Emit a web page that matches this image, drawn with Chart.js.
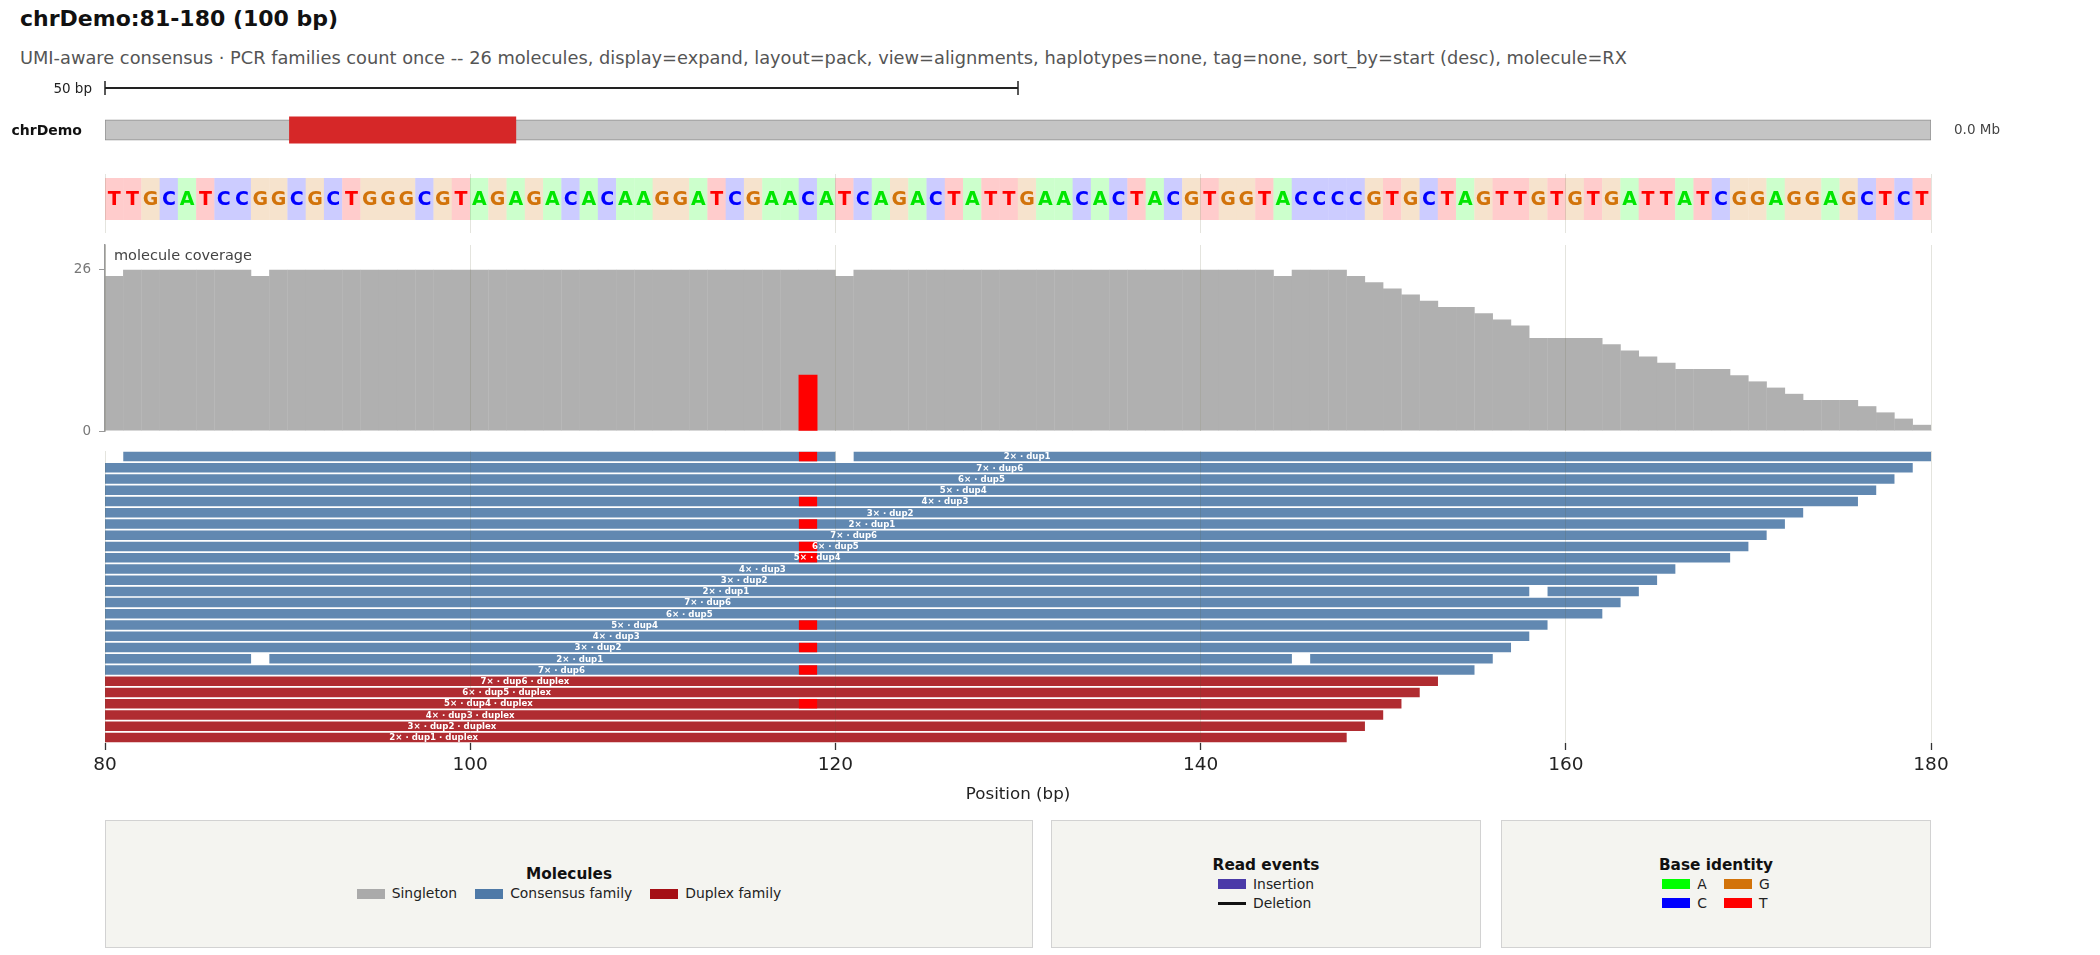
<!DOCTYPE html>
<html><head><meta charset="utf-8">
<script src="https://cdn.jsdelivr.net/npm/chart.js@4.4.0/dist/chart.umd.min.js"></script>
<style>
html,body{margin:0;padding:0;background:#fff;width:2100px;height:955px;overflow:hidden;font-family:"DejaVu Sans",sans-serif;}
.txt{position:absolute;white-space:nowrap;line-height:1;z-index:5;}
canvas{position:absolute;left:0;}
.legend{position:absolute;top:820px;height:128px;box-sizing:border-box;border:1.5px solid #d2d2d2;background:#f4f4f0;display:flex;flex-direction:column;align-items:center;justify-content:center;color:#222;}
.ltitle{font-weight:bold;font-size:15.3px;line-height:19px;color:#111;}
.lrow{display:flex;align-items:center;font-size:13.9px;line-height:19px;}
.lgrid{display:grid;grid-template-columns:auto auto;column-gap:17px;}
.item{display:flex;align-items:center;height:19px;}
.sw{display:inline-block;width:28px;height:10px;margin-right:7px;}
</style></head><body>
<script>
// ---------------- data ----------------
const viewStart = 80, viewEnd = 180;
const xTicks = [80, 100, 120, 140, 160, 180];
const scaleBarRange = [80, 130];
const scaleBarLabel = '50 bp';
const ideogramRange = [80, 180];
const highlightRange = [90.1, 102.5];
const sequence = ['T','T','G','C','A','T','C','C','G','G','C','G','C','T','G','G','G','C','G','T',
  'A','G','A','G','A','C','A','C','A','A','G','G','A','T','C','G','A','A','C','A',
  'T','C','A','G','A','C','T','A','T','T','G','A','A','C','A','C','T','A','C','G',
  'T','G','G','T','A','C','C','C','C','G','T','G','C','T','A','G','T','T','G','T',
  'G','T','G','A','T','T','A','T','C','G','G','A','G','G','A','G','C','T','C','T'];
const coverage = [25,26,26,26,26,26,26,26,25,26, 26,26,26,26,26,26,26,26,26,26,
  26,26,26,26,26,26,26,26,26,26, 26,26,26,26,26,26,26,26,26,26,
  25,26,26,26,26,26,26,26,26,26, 26,26,26,26,26,26,26,26,26,26,
  26,26,26,26,25,26,26,26,25,24, 23,22,21,20,20,19,18,17,15,15,
  15,15,14,13,12,11,10,10,10,9, 8,7,6,5,5,5,4,3,2,1];
const coverageTicks = [0, 26];
const mismatchBase = 119;
const mismatchCount = 9;
const readStarts = [81,79,78,77,76,73,72,71,70,69,66,65,64,63,62,59,58,57,56,55,53,52,51,50,49,48];
const readEnds = [180,179,178,177,176,173,172,171,170,169,166,165,164,163,162,159,158,157,156,155,153,152,151,150,149,148];
const readKinds = ['c','c','c','c','c','c','c','c','c','c','c','c','c','c','c','c','c','c','c','c','d','d','d','d','d','d'];
const readLabels = ['2× · dup1','7× · dup6','6× · dup5','5× · dup4','4× · dup3','3× · dup2','2× · dup1','7× · dup6',
  '6× · dup5','5× · dup4','4× · dup3','3× · dup2','2× · dup1','7× · dup6','6× · dup5','5× · dup4','4× · dup3',
  '3× · dup2','2× · dup1','7× · dup6','7× · dup6 · duplex','6× · dup5 · duplex','5× · dup4 · duplex',
  '4× · dup3 · duplex','3× · dup2 · duplex','2× · dup1 · duplex'];
const readGaps = [[0,120,121],[12,158,159],[18,88,89],[18,145,146]];
const mismatchRows = [0,4,6,8,9,15,17,19,22];
const legendMolecules = [['Singleton','#aaaaaa'],['Consensus family','#4e79a7'],['Duplex family','#a50f15']];
const legendEvents = [['Insertion','#4a3aa8','box'],['Deletion','#111111','line']];
const legendBases = [['A','#00ff00'],['G','#d2730a'],['C','#0000ff'],['T','#ff0000']];

// ---------------- styles ----------------
const FONT = '"DejaVu Sans", sans-serif';
Chart.defaults.font.family = FONT;
const baseColors = {A:'#00e600', C:'#0000ff', G:'#d2730a', T:'#ff0000'};
const baseBg = {A:'#ccffcc', C:'#ccccff', G:'#f6e3cd', T:'#ffcccc'};
const gridColor = 'rgba(90,90,50,0.16)';
const readColors = {c:'rgba(78,121,167,0.89)', d:'rgba(165,15,21,0.88)'};

function txt(s, x, baseline, size, weight, color, align){
  const d = document.createElement('div');
  d.className = 'txt'; d.textContent = s;
  d.style.fontSize = size + 'px'; d.style.fontWeight = weight; d.style.color = color;
  d.style.top = (baseline - 0.846*size) + 'px';
  if (align === 'right') { d.style.right = (2100 - x) + 'px'; } else { d.style.left = x + 'px'; }
  document.body.appendChild(d);
}
function canvasAt(top, height){
  const c = document.createElement('canvas');
  c.width = 2100; c.height = height;
  c.style.top = top + 'px'; c.style.width = '2100px'; c.style.height = height + 'px';
  document.body.appendChild(c);
  return c;
}
const common = {responsive:false, animation:false, events:[], devicePixelRatio:1,
  plugins:{legend:{display:false}, tooltip:{enabled:false}}};
function xAxis(extra){
  return Object.assign({type:'linear', min:viewStart, max:viewEnd, offset:false,
    afterBuildTicks(s){ s.ticks = xTicks.map(v=>({value:v})); },
    ticks:{display:false}, border:{display:false},
    grid:{color:gridColor, lineWidth:1, drawTicks:false, offset:false, z:1},
    afterFit(s){ s.height = 0; }}, extra || {});
}

// ---------------- texts ----------------
txt('chrDemo:81-180 (100 bp)', 20, 26.5, 22, 'bold', '#111', 'left');
txt('UMI-aware consensus · PCR families count once -- 26 molecules, display=expand, layout=pack, view=alignments, haplotypes=none, tag=none, sort_by=start (desc), molecule=RX', 20, 64.5, 17.8, 'normal', '#555', 'left');
txt(scaleBarLabel, 92, 93, 13.5, 'normal', '#222', 'right');
txt('chrDemo', 82, 135, 14, 'bold', '#111', 'right');
txt('0.0 Mb', 1954, 134, 13.5, 'normal', '#444', 'left');
txt('molecule coverage', 114, 260, 14.5, 'normal', '#444', 'left');

// ---------------- ideogram + scale bar ----------------
new Chart(canvasAt(70, 80), {
  type:'bar',
  data:{datasets:[
    {type:'line', data:[{x:scaleBarRange[0], y:18},{x:scaleBarRange[1], y:18}], borderColor:'#222', borderWidth:2,
     pointStyle:'line', rotation:90, pointRadius:7, pointBorderWidth:1.5, pointBorderColor:'#222', order:0, clip:false},
    {indexAxis:'y', data:[{x:highlightRange, y:60}], backgroundColor:'#d62728', barThickness:26.5, grouped:false, order:1},
    {indexAxis:'y', data:[{x:ideogramRange, y:60}], backgroundColor:'#c4c4c4', borderColor:'#8f8f8f', borderWidth:1,
     borderSkipped:false, barThickness:20.5, grouped:false, order:2}
  ]},
  options:Object.assign({}, common, {
    layout:{autoPadding:false, padding:{left:105, right:169, top:0, bottom:0}},
    scales:{x:{type:'linear', min:viewStart, max:viewEnd, display:false, offset:false},
            y:{type:'linear', min:0, max:80, reverse:true, display:false, offset:false}}
  })
});

// ---------------- sequence track ----------------
const seqLetters = {id:'seqLetters', afterDatasetsDraw(chart){
  const {ctx, scales:{x, y}} = chart;
  ctx.save(); ctx.font = 'bold 19px ' + FONT; ctx.textAlign = 'center'; ctx.textBaseline = 'middle';
  sequence.forEach((b, i) => { ctx.fillStyle = baseColors[b]; ctx.fillText(b, x.getPixelForValue(viewStart + 0.5 + i), y.getPixelForValue(0.5) + 1); });
  ctx.restore();
}};
new Chart(canvasAt(174, 59), {
  type:'bar',
  data:{datasets:[{data:sequence.map((b, i) => ({x:viewStart + 0.5 + i, y:[0, 1]})),
    backgroundColor:sequence.map(b => baseBg[b]), barPercentage:1.02, categoryPercentage:1, grouped:false}]},
  options:Object.assign({}, common, {
    layout:{autoPadding:false, padding:{left:105, right:169, top:0, bottom:0}},
    scales:{x:xAxis(), y:{type:'linear', min:-0.31, max:1.095, display:false}}
  }),
  plugins:[seqLetters]
});

// ---------------- coverage ----------------
new Chart(canvasAt(228, 220), {
  type:'bar',
  data:{datasets:[
    {data:[{x:mismatchBase - 0.5, y:mismatchCount}], backgroundColor:'#ff0000', barPercentage:1, categoryPercentage:1, grouped:false, order:1},
    {data:coverage.map((v, i) => ({x:viewStart + 0.5 + i, y:v})), backgroundColor:'#b0b0b0', barPercentage:1.02, categoryPercentage:1, grouped:false, order:2}
  ]},
  options:Object.assign({}, common, {
    layout:{autoPadding:false, padding:{left:65, right:169, top:17, bottom:17}},
    scales:{
      x:xAxis(),
      y:{type:'linear', min:0, max:30, position:'left',
        afterBuildTicks(s){ s.ticks = coverageTicks.map(v=>({value:v})); },
        ticks:{color:'#777', font:{size:13.5}, padding:8},
        grid:{drawOnChartArea:false, drawTicks:true, tickLength:6, tickColor:'#999'},
        border:{display:true, color:'#999', width:1.5},
        afterFit(s){ s.width = 40; }}
    }
  })
});

// ---------------- reads ----------------
const rowKeys = readLabels.map((_, i) => 'r' + i);
function segmentsFor(kind){
  const out = [];
  readStarts.forEach((s, i) => {
    if (readKinds[i] !== kind) return;
    const cuts = readGaps.filter(g => g[0] === i).sort((a, b) => a[1] - b[1]);
    let cur = s;
    cuts.forEach(g => { out.push({x:[cur, g[1]], y:rowKeys[i]}); cur = g[2]; });
    out.push({x:[cur, readEnds[i]], y:rowKeys[i]});
  });
  return out;
}
const readText = {id:'readText', afterDatasetsDraw(chart){
  const {ctx, chartArea:a, scales:{x, y}} = chart;
  ctx.save(); ctx.beginPath(); ctx.rect(a.left, a.top, a.right - a.left, a.bottom - a.top); ctx.clip();
  ctx.font = 'bold 8.6px ' + FONT; ctx.fillStyle = '#ffffff'; ctx.textAlign = 'center'; ctx.textBaseline = 'middle';
  readLabels.forEach((l, i) => { ctx.fillText(l, x.getPixelForValue((readStarts[i] + readEnds[i]) / 2), y.getPixelForValue(i) + 0.5); });
  ctx.restore();
}};
const barCommon = {indexAxis:'y', categoryPercentage:1, barPercentage:0.846, grouped:false};
new Chart(canvasAt(451, 354), {
  type:'bar',
  data:{labels:rowKeys, datasets:[
    Object.assign({data:mismatchRows.map(r => ({x:[mismatchBase - 1, mismatchBase], y:rowKeys[r]})), backgroundColor:'#ff0000', order:1}, barCommon),
    Object.assign({data:segmentsFor('c'), backgroundColor:readColors.c, order:2}, barCommon),
    Object.assign({data:segmentsFor('d'), backgroundColor:readColors.d, order:3}, barCommon)
  ]},
  options:Object.assign({}, common, {
    indexAxis:'y',
    layout:{autoPadding:false, padding:{left:105, right:169, top:0, bottom:0}},
    scales:{
      x:{type:'linear', position:'bottom', min:viewStart, max:viewEnd, offset:false,
        afterBuildTicks(s){ s.ticks = xTicks.map(v=>({value:v})); },
        ticks:{color:'#222', font:{size:18.5}, padding:4, maxRotation:0},
        grid:{color:gridColor, lineWidth:1, drawTicks:true, tickLength:7, tickColor:'#333', tickWidth:1.3, offset:false, z:1},
        border:{display:false},
        title:{display:true, text:'Position (bp)', color:'#222', font:{size:16.7}, padding:{top:0, bottom:0}},
        afterFit(s){ s.height = 62; }},
      y:{type:'category', display:false, offset:true, grid:{display:false}}
    }
  }),
  plugins:[readText]
});

// ---------------- legends ----------------
function legendBox(left, width){
  const b = document.createElement('div'); b.className = 'legend';
  b.style.left = left + 'px'; b.style.width = width + 'px';
  document.body.appendChild(b); return b;
}
function swatch(color, kind, w){
  const s = document.createElement('span'); s.className = 'sw';
  s.style.width = (w || 28) + 'px';
  if (kind === 'line') { s.style.height = '3px'; }
  s.style.background = color;
  return s;
}
function item(label, color, kind, w){
  const it = document.createElement('div'); it.className = 'item';
  it.appendChild(swatch(color, kind, w));
  const t = document.createElement('span'); t.textContent = label; it.appendChild(t);
  return it;
}
function ttl(b, s){ const t = document.createElement('div'); t.className = 'ltitle'; t.textContent = s; b.appendChild(t); }

const b1 = legendBox(105, 928); ttl(b1, 'Molecules');
const r1 = document.createElement('div'); r1.className = 'lrow';
legendMolecules.forEach(([l, c], i) => { const it = item(l, c, 'box', 28); if (i) it.style.marginLeft = '18px'; r1.appendChild(it); });
b1.appendChild(r1);

const b2 = legendBox(1051, 430); ttl(b2, 'Read events');
const c2 = document.createElement('div'); c2.className = 'lrow'; c2.style.flexDirection = 'column'; c2.style.alignItems = 'flex-start';
legendEvents.forEach(([l, c, k]) => c2.appendChild(item(l, c, k, 28)));
b2.appendChild(c2);

const b3 = legendBox(1501, 430); ttl(b3, 'Base identity');
const g3 = document.createElement('div'); g3.className = 'lgrid lrow';
g3.style.display = 'grid';
legendBases.forEach(([l, c]) => g3.appendChild(item(l, c, 'box', 28)));
b3.appendChild(g3);
</script>
</body></html>
